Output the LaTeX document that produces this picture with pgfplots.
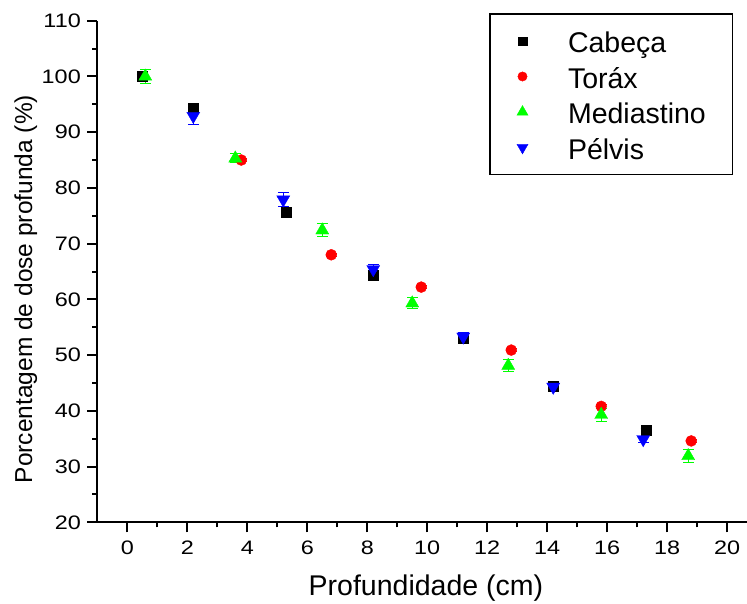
\documentclass[border=0pt]{standalone}
\usepackage{fontspec}
\setmainfont{Liberation Sans}
\newfontfamily\ticksans{Liberation Sans}[FakeStretch=1.2]
\usepackage{pgfplots}
\usepackage{pgfplotstable}
\pgfplotsset{compat=1.18}

% depth (cm), PDD (%), uncertainty
\pgfplotstableread{
x y e
0.5 100.0 0.3
2.2 94.3 0.6
5.3 75.7 0.5
8.2 64.4 0.8
11.2 53.0 0.5
14.2 44.5 0.5
17.3 36.6 0.3
}\cabeca
\pgfplotstableread{
x y e
3.8 85.0 0.3
6.8 68.0 0.3
9.8 62.2 0.3
12.8 50.9 0.3
15.8 40.8 0.3
18.8 34.6 0.3
}\torax
\pgfplotstableread{
x y e
0.6 100.0 1.2
3.6 85.3 0.8
6.5 72.4 1.2
9.5 59.3 1.0
12.7 48.1 1.1
15.8 39.3 1.2
18.7 31.9 1.1
}\mediastino
\pgfplotstableread{
x y e
2.2 92.9 1.6
5.2 77.9 1.3
8.2 65.4 0.9
11.2 53.3 0.8
14.2 44.3 0.8
17.2 34.9 0.5
}\pelvis

\definecolor{ogreen}{RGB}{0,255,0}
\definecolor{ored}{RGB}{255,0,0}
\definecolor{oblue}{RGB}{0,0,255}

\begin{document}
\begin{tikzpicture}
\begin{axis}[
  at={(0,0)}, anchor=south west,
  scale only axis, width=649.7bp, height=501.6bp,
  xmin=-1, xmax=20.66, ymin=20, ymax=110,
  axis x line*=bottom, axis y line*=left,
  axis line style={line width=2bp},
  xtick={0,2,...,20}, ytick={20,30,...,110},
  minor x tick num=1, minor y tick num=1,
  tick align=outside,
  major tick length=10bp, minor tick length=5bp,
  every tick/.style={black, line width=2bp},
  /pgf/number format/assume math mode=true,
  ticklabel style={font=\fontsize{19.5bp}{23bp}\selectfont\ticksans},
  xticklabel style={yshift=-5bp},
  yticklabel style={xshift=-3bp},
  xlabel={Profundidade (cm)},
  ylabel={Porcentagem de dose profunda (\%)},
  xlabel style={at={(axis description cs:0.5058,-0.1469)}, anchor=base,
    font=\fontsize{28.5bp}{34bp}\selectfont},
  ylabel style={at={(axis description cs:-0.1005,0.465)}, anchor=base,
    font=\fontsize{24.5bp}{30bp}\selectfont},
  clip=false,
  legend cell align=left,
  legend image code/.code={\draw[#1, line width=0.4pt, every mark/.append style={scale=0.85}] plot coordinates {(0bp,0bp)};},
  legend style={at={(axis description cs:0.6034,1.0147)}, anchor=north west,
    draw=black, line width=1.3bp, fill=white,
    inner xsep=27bp, inner ysep=13bp,
    font=\fontsize{28.5bp}{34bp}\selectfont,
    row sep=7.5bp,
    nodes={inner sep=0pt, text height=26bp, text depth=2bp},
    /tikz/every odd column/.style={column sep=40bp}},
  error bars/y dir=both, error bars/y explicit,
  error bars/error bar style={line width=1bp},
  error bars/error mark options={rotate=90, mark size=5.5bp, line width=1bp},
]
\addplot[only marks, mark=square*, color=black, mark size=5bp]
  table[x=x, y=y, y error=e] {\cabeca};
\addlegendentry{Cabeça}
\addplot[only marks, mark=*, color=ored, mark size=5.5bp]
  table[x=x, y=y, y error=e] {\torax};
\addlegendentry{Toráx}
\addplot[only marks, mark=triangle*, color=ogreen, mark size=7.5bp]
  table[x=x, y=y, y error=e] {\mediastino};
\addlegendentry{Mediastino}
\addplot[only marks, mark=triangle*, color=oblue, mark size=7.5bp,
  every mark/.append style={rotate=180}]
  table[x=x, y=y, y error=e] {\pelvis};
\addlegendentry{Pélvis}
\end{axis}
\pgfresetboundingbox
\path[use as bounding box] (-97.3bp,-81.7bp) rectangle (649.7bp,522.3bp);
\end{tikzpicture}
\end{document}
